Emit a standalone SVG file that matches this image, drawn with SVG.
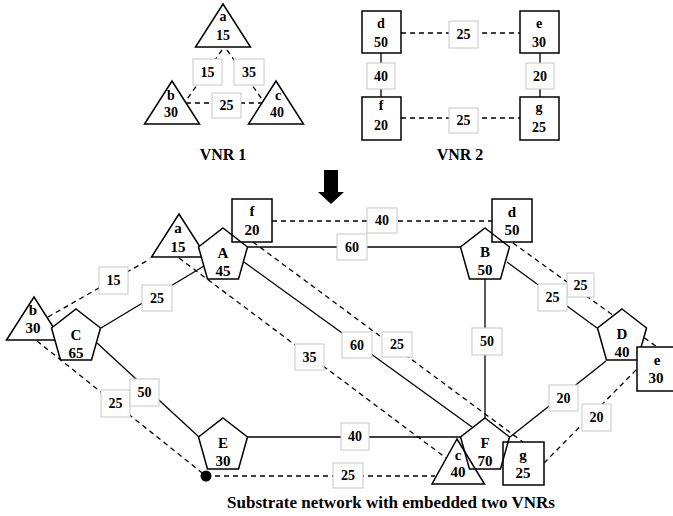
<svg xmlns="http://www.w3.org/2000/svg" xmlns:xlink="http://www.w3.org/1999/xlink" width="673" height="516" viewBox="0 0 673 516">
  <style>
    text { font-family: "Liberation Serif", "Times New Roman", serif; font-weight: bold; fill: #000; text-anchor: middle; }
    .t { font-size: 14px; }
    .tn { font-size: 15px; }
    .title { font-size: 16px; }
    .caption { font-size: 17px; }
    .shape { fill: #fff; stroke: #000; stroke-width: 1.5; }
    .open { fill: none; stroke: #000; stroke-width: 1.5; }
    .solid { stroke: #000; stroke-width: 1.3; fill: none; }
    .dash { stroke: #000; stroke-width: 1.3; fill: none; stroke-dasharray: 5 4; }
    .lbl { fill: #fff; stroke: #c8c8c8; stroke-width: 1; }
  </style>
  <defs>
    <!-- pentagon: origin at top vertex -->
    <path id="pent" d="M0,0 L24.5,19 L15.5,51 L-15.5,51 L-24.5,19 Z"/>
    <!-- triangle: origin at apex -->
    <path id="tri" d="M0,0 L27.5,43 L-27.5,43 Z"/>
  </defs>

  <!-- ===== VNR 1 ===== -->
  <g id="vnr1-links">
    <line class="dash" x1="222" y1="50" x2="185" y2="102"/>
    <line class="dash" x1="227" y1="50" x2="264" y2="102"/>
    <line class="dash" x1="186" y1="103" x2="264" y2="103"/>
    <rect class="lbl" x="193" y="59" width="29" height="26"/>
    <text class="t" x="207.5" y="77">15</text>
    <rect class="lbl" x="234" y="59" width="30" height="26"/>
    <text class="t" x="249" y="77">35</text>
    <rect class="lbl" x="212" y="93" width="29" height="25"/>
    <text class="t" x="226.5" y="110">25</text>
  </g>
  <g id="vnr1-a">
    <use xlink:href="#tri" href="#tri" x="223" y="4" class="shape"/>
    <text class="t" x="223" y="21">a</text>
    <text class="t" x="223" y="40">15</text>
  </g>
  <g id="vnr1-b">
    <use xlink:href="#tri" href="#tri" x="172" y="81" class="shape"/>
    <text class="t" x="171" y="100">b</text>
    <text class="t" x="171" y="117">30</text>
  </g>
  <g id="vnr1-c">
    <use xlink:href="#tri" href="#tri" x="276" y="81" class="shape"/>
    <text class="t" x="278" y="100">c</text>
    <text class="t" x="277" y="117">40</text>
  </g>
  <text class="title" x="223" y="160">VNR 1</text>

  <!-- ===== VNR 2 ===== -->
  <g id="vnr2-links">
    <line class="dash" x1="401" y1="33" x2="520" y2="33"/>
    <line class="dash" x1="401" y1="118" x2="520" y2="118"/>
    <line class="solid" x1="381" y1="53" x2="381" y2="97"/>
    <line class="solid" x1="540" y1="53" x2="540" y2="97"/>
    <rect class="lbl" x="449" y="21" width="29" height="27"/>
    <text class="t" x="463.5" y="39">25</text>
    <rect class="lbl" x="449" y="108" width="29" height="25"/>
    <text class="t" x="463.5" y="125">25</text>
    <rect class="lbl" x="367" y="63" width="28" height="26"/>
    <text class="t" x="381" y="81">40</text>
    <rect class="lbl" x="526" y="63" width="28" height="26"/>
    <text class="t" x="540" y="81">20</text>
  </g>
  <g id="vnr2-d">
    <rect class="shape" x="362" y="11" width="39" height="42"/>
    <text class="t" x="381" y="28">d</text>
    <text class="t" x="381" y="47">50</text>
  </g>
  <g id="vnr2-e">
    <rect class="shape" x="520" y="11" width="39" height="42"/>
    <text class="t" x="539" y="28">e</text>
    <text class="t" x="539" y="47">30</text>
  </g>
  <g id="vnr2-f">
    <rect class="shape" x="362" y="97" width="39" height="43"/>
    <text class="t" x="381" y="110">f</text>
    <text class="t" x="381" y="130">20</text>
  </g>
  <g id="vnr2-g">
    <rect class="shape" x="520" y="97" width="39" height="43"/>
    <text class="t" x="539" y="112">g</text>
    <text class="t" x="539" y="132">25</text>
  </g>
  <text class="title" x="460" y="160">VNR 2</text>

  <!-- mapping arrow -->
  <polygon id="arrow" points="324,170 338,170 338,192 344,192 331,204 318,192 324,192" fill="#000"/>

  <!-- ===== Substrate network: links ===== -->
  <g id="connectors">
    <!-- substrate links -->
    <line class="solid" x1="248" y1="247" x2="461" y2="247"/>
    <line class="solid" x1="244" y1="262" x2="472" y2="427"/>
    <line class="solid" x1="101" y1="328" x2="204" y2="266"/>
    <line class="solid" x1="97" y1="343" x2="199" y2="437"/>
    <line class="solid" x1="248" y1="437" x2="461" y2="437"/>
    <line class="solid" x1="485" y1="278" x2="485" y2="418"/>
    <line class="solid" x1="507" y1="262" x2="597" y2="328"/>
    <line class="solid" x1="510" y1="437" x2="606" y2="361"/>
    <!-- embedded virtual links -->
    <line class="dash" x1="48" y1="317" x2="150" y2="259"/>
    <line class="dash" x1="37" y1="341" x2="206" y2="476"/>
    <line class="dash" x1="206" y1="476" x2="435" y2="476"/>
    <line class="dash" x1="179" y1="258" x2="446" y2="458"/>
    <line class="dash" x1="253" y1="242" x2="523" y2="442"/>
    <line class="dash" x1="272" y1="221" x2="492" y2="221"/>
    <line class="dash" x1="513" y1="243" x2="657" y2="347"/>
    <line class="dash" x1="544" y1="463" x2="638" y2="368"/>

    <!-- link weights -->
    <rect class="lbl" x="337" y="234" width="30" height="26"/>
    <text class="t" x="352" y="252">60</text>
    <rect class="lbl" x="367" y="208" width="30" height="25"/>
    <text class="t" x="382" y="225">40</text>
    <rect class="lbl" x="342" y="332" width="30" height="26"/>
    <text class="t" x="357" y="350">60</text>
    <rect class="lbl" x="382" y="332" width="30" height="25"/>
    <text class="t" x="397" y="349">25</text>
    <rect class="lbl" x="295" y="344" width="29" height="26"/>
    <text class="t" x="309.5" y="362">35</text>
    <rect class="lbl" x="142" y="285" width="30" height="26"/>
    <text class="t" x="157" y="303">25</text>
    <rect class="lbl" x="99" y="267" width="29" height="27"/>
    <text class="t" x="113.5" y="285">15</text>
    <rect class="lbl" x="101" y="390" width="29" height="27"/>
    <text class="t" x="115.5" y="408">25</text>
    <rect class="lbl" x="130" y="379" width="29" height="27"/>
    <text class="t" x="144.5" y="397">50</text>
    <rect class="lbl" x="341" y="423" width="28" height="27"/>
    <text class="t" x="355" y="441">40</text>
    <rect class="lbl" x="333" y="463" width="30" height="25"/>
    <text class="t" x="348" y="480">25</text>
    <rect class="lbl" x="472" y="328" width="30" height="27"/>
    <text class="t" x="487" y="346">50</text>
    <rect class="lbl" x="567" y="273" width="27" height="24"/>
    <text class="t" x="580.5" y="290">25</text>
    <rect class="lbl" x="538" y="284" width="29" height="27"/>
    <text class="t" x="552.5" y="302">25</text>
    <rect class="lbl" x="549" y="385" width="29" height="26"/>
    <text class="t" x="563.5" y="403">20</text>
    <rect class="lbl" x="582" y="404" width="29" height="27"/>
    <text class="t" x="596.5" y="422">20</text>
  </g>

  <circle id="junction" cx="206" cy="476" r="5.5" fill="#000"/>

  <!-- virtual nodes placed under substrate nodes -->
  <g id="sn-a">
    <use xlink:href="#tri" href="#tri" x="179" y="214" class="shape"/>
    <text class="tn" x="178" y="233">a</text>
    <text class="tn" x="178" y="252">15</text>
  </g>
  <g id="sn-b">
    <use xlink:href="#tri" href="#tri" x="34" y="297" class="shape"/>
    <text class="tn" x="33" y="315">b</text>
    <text class="tn" x="33" y="333">30</text>
  </g>

  <!-- substrate nodes -->
  <g id="node-A">
    <use xlink:href="#pent" href="#pent" x="223" y="228" class="shape"/>
    <text class="tn" x="223" y="258">A</text>
    <text class="tn" x="223" y="276">45</text>
  </g>
  <g id="node-B">
    <use xlink:href="#pent" href="#pent" x="485" y="228" class="shape"/>
    <text class="tn" x="485" y="257">B</text>
    <text class="tn" x="485" y="275">50</text>
  </g>
  <g id="node-C">
    <use xlink:href="#pent" href="#pent" x="76" y="309" class="shape"/>
    <text class="tn" x="76" y="340">C</text>
    <text class="tn" x="76" y="358">65</text>
  </g>
  <g id="node-D">
    <use xlink:href="#pent" href="#pent" x="622" y="309" class="shape"/>
    <text class="tn" x="622" y="339">D</text>
    <text class="tn" x="622" y="357">40</text>
  </g>
  <g id="node-E">
    <use xlink:href="#pent" href="#pent" x="223" y="418" class="shape"/>
    <text class="tn" x="223" y="448">E</text>
    <text class="tn" x="223" y="466">30</text>
  </g>
  <g id="node-F">
    <use xlink:href="#pent" href="#pent" x="485" y="418" class="shape"/>
    <text class="tn" x="485" y="448">F</text>
    <text class="tn" x="485" y="466">70</text>
  </g>

  <!-- virtual nodes drawn as outlines over substrate nodes -->
  <g id="sn-c">
    <path class="open" d="M457,439 L484.5,484 L432,484 Z"/>
    <text class="tn" x="458" y="460">c</text>
    <text class="tn" x="458" y="477">40</text>
  </g>
  <g id="sn-f">
    <rect class="open" x="232" y="199" width="40" height="43"/>
    <text class="tn" x="252" y="216">f</text>
    <text class="tn" x="252" y="235">20</text>
  </g>
  <g id="sn-d">
    <rect class="open" x="492" y="199" width="40" height="43"/>
    <text class="tn" x="512" y="217">d</text>
    <text class="tn" x="512" y="235">50</text>
  </g>
  <g id="sn-e">
    <rect class="shape" x="637" y="347" width="40" height="44"/>
    <text class="tn" x="657" y="365">e</text>
    <text class="tn" x="656" y="383">30</text>
  </g>
  <g id="sn-g">
    <rect class="open" x="503" y="442" width="41" height="43"/>
    <text class="tn" x="523" y="460">g</text>
    <text class="tn" x="523" y="478">25</text>
  </g>

  <text class="caption" x="391" y="508">Substrate network with embedded two VNRs</text>
</svg>
